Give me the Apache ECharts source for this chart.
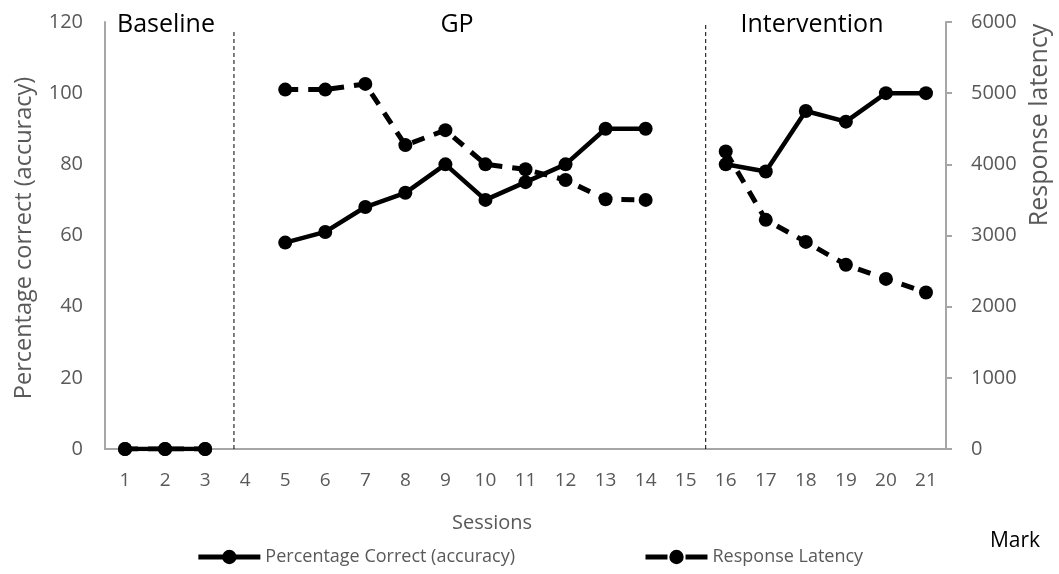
<!DOCTYPE html>
<html>
<head>
<meta charset="utf-8">
<script src="https://cdn.jsdelivr.net/npm/echarts@6/dist/echarts.min.js"></script>
<style>html,body{margin:0;padding:0;background:#fff}#c{width:1059px;height:574px}</style>
</head>
<body>
<div id="c"></div>
<script>
const sessions = ['1','2','3','4','5','6','7','8','9','10','11','12','13','14','15','16','17','18','19','20','21'];
const accuracy = [0,0,0,null,58,61,68,72,80,70,75,80,90,90,null,80,78,95,92,100,100];
const latency  = [0,0,0,null,5050,5050,5130,4270,4480,4000,3930,3780,3510,3500,null,4180,3220,2910,2590,2390,2200];
const phaseLabels = ['Baseline','GP','Intervention'];
const phaseDividers = [3.72, 15.5];
const leftTicks = [0,120,20];
const rightTicks = [0,6000,1000];

const FONT = '"Open Sans", sans-serif';
const GREY = '#595959';
const chart = echarts.init(document.getElementById('c'), null, {renderer:'canvas'});

const dividerSeries = phaseDividers.map((x, i) => ({
  name: 'divider' + i,
  type: 'line',
  xAxisIndex: 1,
  yAxisIndex: 0,
  data: [[x, 0], [x, i === 0 ? 117.5 : 120]],
  symbol: 'none',
  silent: true,
  lineStyle: {color: '#000', width: 1, type: [4, 3]},
  z: 1
}));

chart.setOption({
  animation: false,
  textStyle: {fontFamily: FONT},
  grid: {left: 105, right: 113, top: 22, bottom: 125},
  xAxis: [{
    type: 'category',
    data: sessions,
    boundaryGap: true,
    axisLine: {lineStyle: {color: '#a6a6a6', width: 2}},
    axisTick: {show: false},
    axisLabel: {color: GREY, fontSize: 19, margin: 22, fontFamily: FONT}
  }, {
    type: 'value', min: 0.5, max: 21.5, show: false
  }],
  yAxis: [{
    type: 'value', min: leftTicks[0], max: leftTicks[1], interval: leftTicks[2],
    axisLine: {show: true, lineStyle: {color: '#a6a6a6', width: 2}},
    axisTick: {show: false},
    splitLine: {show: false},
    axisLabel: {color: GREY, fontSize: 20, margin: 22, fontFamily: FONT}
  }, {
    type: 'value', min: rightTicks[0], max: rightTicks[1], interval: rightTicks[2],
    position: 'right',
    axisLine: {show: true, lineStyle: {color: '#a6a6a6', width: 2}},
    axisTick: {show: true, length: 6, lineStyle: {color: '#a6a6a6', width: 2}},
    splitLine: {show: false},
    axisLabel: {color: GREY, fontSize: 20, margin: 25, fontFamily: FONT, formatter: v => String(v)}
  }],
  legend: {
    data: [
      {name: 'Percentage Correct (accuracy)', lineStyle: {width: 5, type: 'solid'}},
      {name: 'Response Latency', lineStyle: {width: 5, type: [22, 18]}}
    ],
    bottom: 3,
    left: 'center',
    itemWidth: 62,
    itemHeight: 18,
    itemGap: 128,
    textStyle: {color: GREY, fontSize: 18, fontFamily: FONT}
  },
  graphic: [
    {type: 'text', left: 117, top: 12, style: {text: phaseLabels[0], fill: '#000', font: '25px ' + FONT}},
    {type: 'text', x: 457, top: 12, style: {text: phaseLabels[1], fill: '#000', font: '25px ' + FONT, textAlign: 'center'}},
    {type: 'text', x: 812, top: 12, style: {text: phaseLabels[2], fill: '#000', font: '25px ' + FONT, textAlign: 'center'}},
    {type: 'text', x: 1015, y: 541, style: {text: 'Mark', fill: '#000', font: '21px ' + FONT, textAlign: 'center', textVerticalAlign: 'middle'}},
    {type: 'text', x: 492, y: 523, style: {text: 'Sessions', fill: GREY, font: '20px ' + FONT, textAlign: 'center', textVerticalAlign: 'middle'}},
    {type: 'text', x: 24, y: 238, rotation: Math.PI / 2, style: {text: 'Percentage correct (accuracy)', fill: GREY, font: '23.5px ' + FONT, textAlign: 'center', textVerticalAlign: 'middle'}},
    {type: 'text', x: 1040, y: 125, rotation: Math.PI / 2, style: {text: 'Response latency', fill: GREY, font: '25px ' + FONT, textAlign: 'center', textVerticalAlign: 'middle'}}
  ],
  series: [
    ...dividerSeries,
    {
      name: 'Percentage Correct (accuracy)',
      type: 'line',
      data: accuracy,
      yAxisIndex: 0,
      symbol: 'circle',
      symbolSize: 14,
      itemStyle: {color: '#000'},
      lineStyle: {color: '#000', width: 4.5},
      connectNulls: false,
      z: 3
    },
    {
      name: 'Response Latency',
      type: 'line',
      data: latency,
      yAxisIndex: 1,
      symbol: 'circle',
      symbolSize: 14,
      itemStyle: {color: '#000'},
      lineStyle: {color: '#000', width: 5, type: [13, 10]},
      connectNulls: false,
      z: 4
    }
  ]
});
</script>
</body>
</html>
